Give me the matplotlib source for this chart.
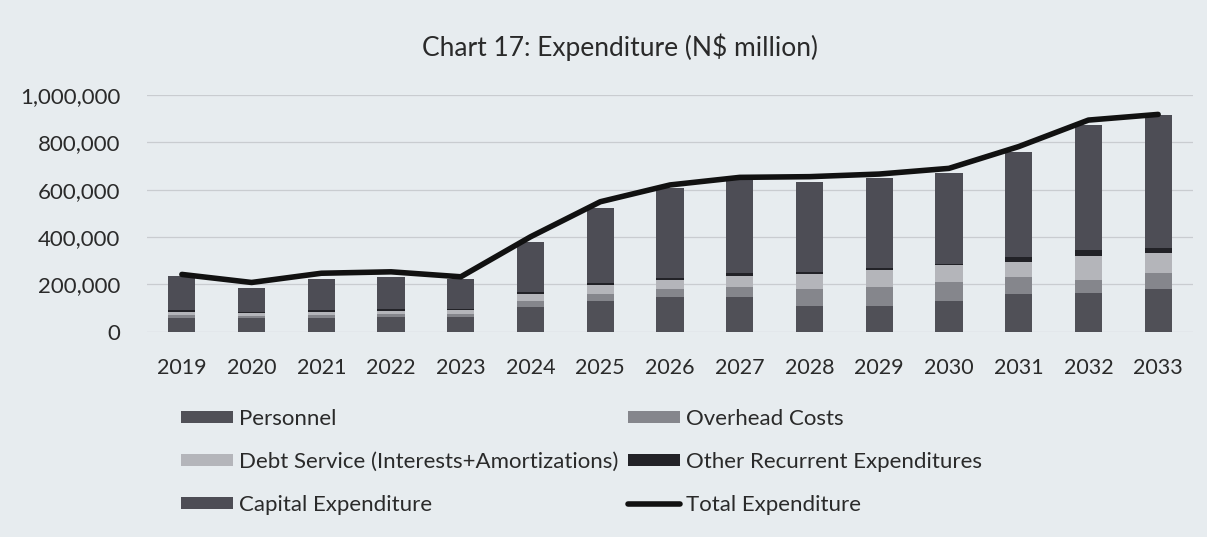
import matplotlib
matplotlib.use("Agg")
import matplotlib.pyplot as plt
from matplotlib.patches import Patch
from matplotlib.lines import Line2D
import numpy as np

plt.rcParams['font.family'] = ['Lato', 'DejaVu Sans']

years = ['2019', '2020', '2021', '2022', '2023', '2024', '2025', '2026',
         '2027', '2028', '2029', '2030', '2031', '2032', '2033']

# N$ million
personnel = [60000, 56000, 60000, 62000, 62000, 105000, 128000, 145000,
             148000, 110000, 110000, 130000, 160000, 163000, 180000]
overhead = [12000, 12000, 12000, 13000, 14000, 25000, 32000, 35000,
            42000, 70000, 80000, 80000, 70000, 55000, 68000]
debt_service = [12000, 11000, 12000, 13000, 16000, 30000, 38000, 38000,
                45000, 65000, 72000, 70000, 66000, 100000, 84000]
other_recurrent = [6000, 5000, 6000, 6000, 6000, 8000, 8000, 8000,
                   13000, 7000, 8000, 6000, 20000, 27000, 23000]
capital = [145000, 100000, 134000, 138000, 125000, 212000, 315000, 380000,
           393000, 382000, 381000, 383000, 444000, 528000, 560000]
total = [242000, 208000, 247000, 253000, 232000, 401000, 549000, 620000,
         652000, 655000, 666000, 690000, 782000, 894000, 918000]

series = [
    ('Personnel', personnel, '#505057'),
    ('Overhead Costs', overhead, '#85868c'),
    ('Debt Service (Interests+Amortizations)', debt_service, '#b4b5ba'),
    ('Other Recurrent Expenditures', other_recurrent, '#222227'),
    ('Capital Expenditure', capital, '#4d4d55'),
]

bg = '#e7ecef'
fig = plt.figure(figsize=(12.07, 5.37), dpi=100, facecolor=bg)
ax = fig.add_axes([0.1218, 0.3823, 0.8666, 0.4408], facecolor=bg)

x = np.arange(len(years))
bottom = np.zeros(len(years))
handles = {}
for name, vals, col in series:
    vals = np.array(vals, dtype=float)
    ax.bar(x, vals, width=0.39, bottom=bottom, color=col, edgecolor='none', zorder=2)
    bottom += vals
    handles[name] = Patch(facecolor=col, edgecolor='none')

ax.plot(x, total, color='#111111', lw=4.0, solid_capstyle='round',
        solid_joinstyle='round', zorder=3)
handles['Total Expenditure'] = Line2D([], [], color='#111111', lw=4.0,
                                      solid_capstyle='round')

ax.set_xlim(-0.5, len(years) - 0.5)
ax.set_ylim(0, 1000000)
ax.set_yticks(np.arange(0, 1000001, 200000))
ax.set_yticklabels([f'{v:,}' for v in range(0, 1000001, 200000)])
ax.set_xticks(x)
ax.set_xticklabels(years)
ax.yaxis.grid(True, color='#c9ccd0', lw=0.9, zorder=0)
ax.set_axisbelow(True)
for s in ax.spines.values():
    s.set_visible(False)
ax.tick_params(axis='both', length=0, colors='#2a2a2a')
ax.tick_params(axis='y', labelsize=16, pad=19)
ax.tick_params(axis='x', labelsize=15.5, pad=19)

fig.text(0.514, 0.912, 'Chart 17: Expenditure (N$ million)', ha='center',
         va='center', fontsize=19, color='#2a2a2a')

col1 = ['Personnel', 'Debt Service (Interests+Amortizations)', 'Capital Expenditure']
col2 = ['Overhead Costs', 'Other Recurrent Expenditures', 'Total Expenditure']
common = dict(frameon=False, fontsize=16, handlelength=2.35, handleheight=0.45,
              handletextpad=0.27, labelspacing=1.03, borderpad=0,
              labelcolor='#2a2a2a')
fig.legend([handles[n] for n in col1], col1, loc='upper left',
           bbox_to_anchor=(0.1408, 0.2588), **common)
fig.legend([handles[n] for n in col2], col2, loc='upper left',
           bbox_to_anchor=(0.5112, 0.2588), **common)

fig.savefig('out.png', dpi=100, facecolor=bg)
